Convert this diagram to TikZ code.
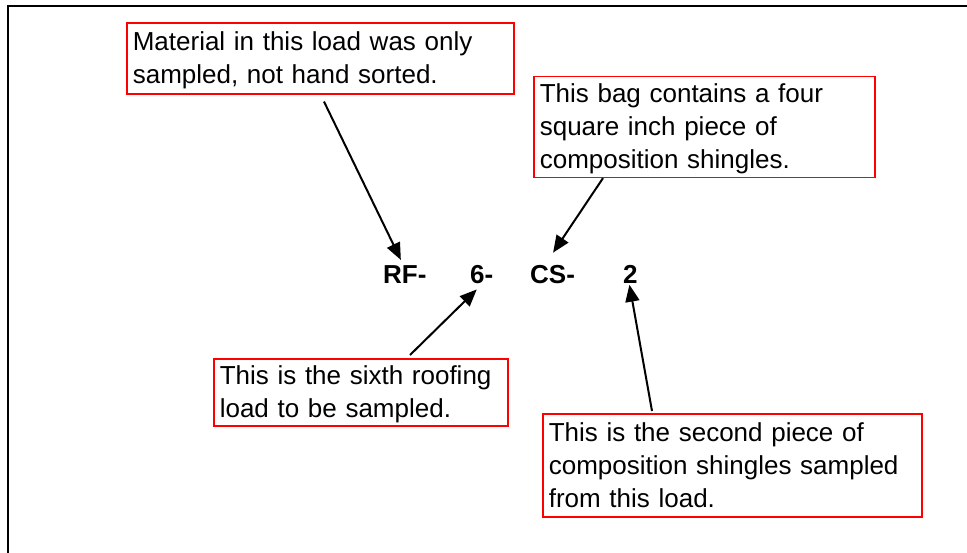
\documentclass[tikz,border=0pt]{standalone}
\usepackage{fontspec}
\setmainfont{Liberation Sans}
\usetikzlibrary{arrows.meta}
\newcommand{\ls}{\rule[-7.5pt]{0pt}{33pt}}
\tikzset{
  note/.style={draw=red, line width=1.6pt, anchor=north west, align=left,
    inner xsep=6pt, inner ysep=0pt, font=\fontsize{26}{33}\selectfont},
  code/.style={anchor=base west, inner sep=0pt, font=\fontsize{26}{33}\selectfont\bfseries},
  arr/.style={line width=2pt, -{Triangle[length=17pt,width=14pt]}},
  frame/.style={line width=2.4pt}
}
\begin{document}
\begin{tikzpicture}[x=1pt,y=1pt]
\useasboundingbox (0,0) rectangle (967,-552);
\draw[frame] (7.8,-600) |- (1000,-5.8);

\node[note, text width=375pt, minimum height=71pt] (b1) at (126,-22)
  {\ls Material in this load was only\\\ls sampled, not hand sorted.};
\node[note, text width=329pt, minimum height=101pt] (b2) at (533,-75.5)
  {\ls This bag contains a four\\\ls square inch piece of\\\ls composition shingles.};
\node[note, text width=282pt, minimum height=67pt] (b3) at (213,-358)
  {\ls This is the sixth roofing\\\ls load to be sampled.};
\node[note, text width=367pt, minimum height=103pt] (b4) at (542,-413)
  {\ls This is the second piece of\\\ls composition shingles sampled\\\ls from this load.};

\node[code] (rf) at (383,-283) {RF-};
\node[code] (six) at (470,-283) {6-};
\node[code] (cs) at (530,-283) {CS-};
\node[code] (two) at (623,-283) {2};

\draw[arr] ([shift={(198pt,-7pt)}]b1.south west) -- ([shift={(-4pt,5pt)}]rf.north);
\draw[arr] ([shift={(70pt,0pt)}]b2.south west) -- ([shift={(0.5pt,12pt)}]cs.north);
\draw[arr] ([shift={(197pt,3pt)}]b3.north west) -- ([shift={(-5pt,-6pt)}]six.south);
\draw[arr] ([shift={(110pt,2pt)}]b4.north west) -- ([shift={(-1pt,-1.5pt)}]two.south);
\end{tikzpicture}
\end{document}
